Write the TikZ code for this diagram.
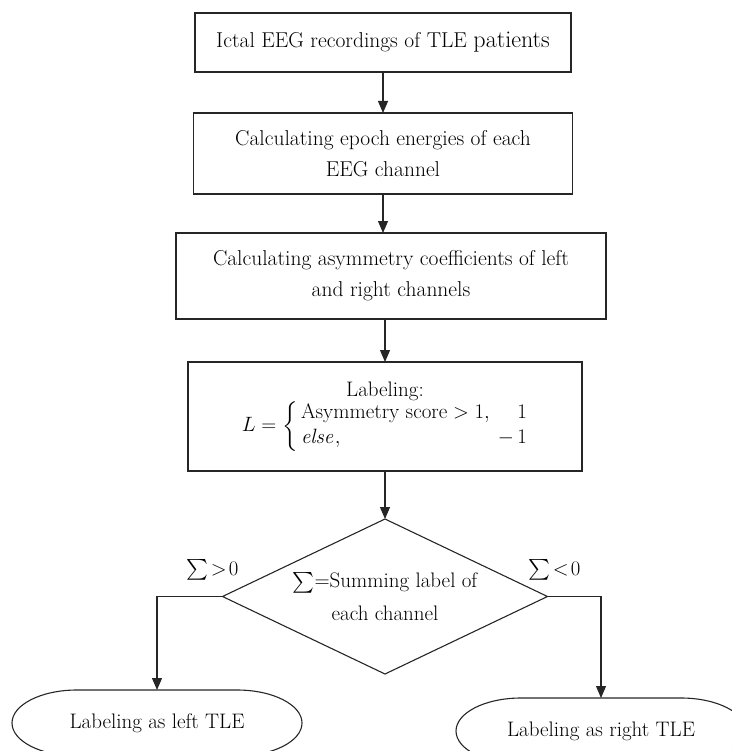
\documentclass[tikz,border=0pt]{standalone}
\usepackage{amsmath}
\usetikzlibrary{positioning,arrows.meta,shapes.geometric}
\tikzset{
  flow/.style={-{Triangle[length=12pt,width=10pt]},line width=1.1pt,draw=black!85},
  box/.style={draw=black!85,line width=1.1pt,align=center,inner sep=0pt,outer sep=0pt,
    font=\fontsize{21.5}{31}\selectfont},
  decision/.style={diamond,draw=black!85,line width=1.1pt,aspect=2.1,inner sep=0pt,
    outer sep=0pt,align=center,font=\fontsize{21}{33}\selectfont},
  endcap/.style={inner ysep=0pt,inner xsep=-15pt,outer sep=0pt,minimum width=160pt,
    minimum height=66pt,font=\fontsize{21}{25}\selectfont},
  branchlabel/.style={inner sep=0pt,font=\fontsize{21}{25}\selectfont}
}
% capsule outline with elliptic ends round a named node
\newcommand{\capsule}[1]{%
  \draw[line width=1.1pt,draw=black!85] (#1.north west) -- (#1.north east)
    arc[start angle=90,end angle=-90,x radius=65pt,y radius=33pt] -- (#1.south west)
    arc[start angle=270,end angle=90,x radius=65pt,y radius=33pt] -- cycle;}
\begin{document}
\begin{tikzpicture}[x=1pt,y=1pt]
  \useasboundingbox (0,0) rectangle (731,-751);
  \node[box,minimum width=376pt,minimum height=59pt] (rec) at (383,-42.5)
    {Ictal EEG recordings of TLE {\fontsize{24}{31}\selectfont patients}};
  \node[box,below=41pt of rec,minimum width=379pt,minimum height=81pt] (energy)
    {Calculating epoch energies of each\\EEG channel};
  \node[box,below=39pt of energy,xshift=8pt,minimum width=430pt,minimum height=86pt] (asym)
    {Calculating asymmetry coefficients of left\\and right channels};
  \node[box,below=43pt of asym,xshift=-6pt,minimum width=394pt,minimum height=109pt,
    font=\fontsize{21}{25}\selectfont] (label)
    {Labeling:\\$L=\left\{\begin{array}{@{\,}l@{\hspace{8pt}}r@{}}
      \text{Asymmetry score}>1, & 1\\ \mathit{else}, & -\,1\end{array}\right.$};
  \node[decision,below=48pt of label,minimum width=325pt,minimum height=155pt] (sum)
    {$\sum$=Summing label of\\each channel};
  \draw[flow] (rec) -- (energy);
  \draw[flow] (energy.south) -- (energy.south |- asym.north);
  \draw[flow] (label.north |- asym.south) -- (label.north);
  \draw[flow] (sum.north |- label.south) -- (sum.north);
  \node[endcap] (lt) at (157,-723) {Labeling as left TLE};
  \node[endcap] (rt) at (601,-731) {Labeling as right TLE};
  \capsule{lt}
  \capsule{rt}
  \draw[flow] (sum.west) -| (lt.north);
  \draw[flow] (sum.east) -| (rt.north);
  \node[branchlabel,above=16pt of sum.west,xshift=-10pt] (pos) {$\sum\!>\!0$};
  \node[branchlabel,above=16pt of sum.east,xshift=7pt] (neg) {$\sum\!<\!0$};
\end{tikzpicture}
\end{document}
